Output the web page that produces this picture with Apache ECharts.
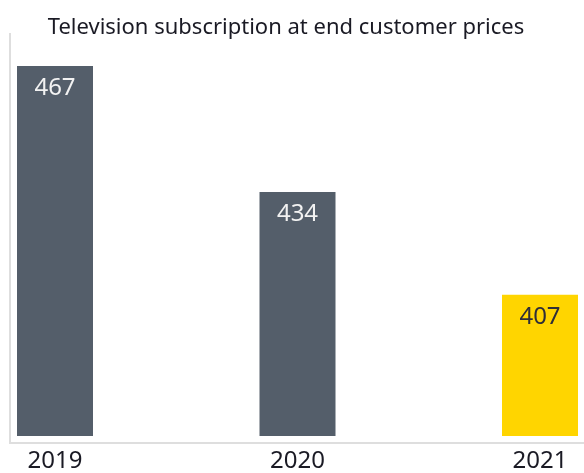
<!DOCTYPE html>
<html>
<head>
<meta charset="utf-8">
<script src="https://cdn.jsdelivr.net/npm/echarts@6/dist/echarts.min.js"></script>
<style>
  html, body { margin: 0; padding: 0; background: #fff; }
  #chart { width: 584px; height: 473px; }
</style>
</head>
<body>
<div id="chart"></div>
<script>
// data
const years = ['2019', '2020', '2021']
const values = [467, 434, 407]
const barColors = ['#545e6a', '#545e6a', '#ffd500']
const labelColors = ['#f2f2f2', '#f2f2f2', '#2e2e38']

const chart = echarts.init(document.getElementById('chart'))
chart.setOption({
  animation: false,
  title: {
    text: 'Television subscription at end customer prices',
    left: 281, top: 12, textAlign: 'center',
    textStyle: { fontFamily: 'Noto Sans', fontSize: 22, fontWeight: 'normal', color: '#1a1a24' }
  },
  grid: { left: 55, right: 44, top: 66, bottom: 30 },
  xAxis: {
    type: 'category',
    data: years,
    boundaryGap: false,
    axisLine: { show: false },
    axisTick: { show: false },
    axisLabel: { margin: 13, fontFamily: 'Noto Sans', fontSize: 24, color: '#1a1a24' }
  },
  yAxis: {
    type: 'value',
    min: 370,
    max: 467,
    show: false
  },
  graphic: [
    { type: 'line', shape: { x1: 10, y1: 33, x2: 10, y2: 443 }, style: { stroke: '#dedede', lineWidth: 2 }, z: 0 },
    { type: 'line', shape: { x1: 9, y1: 443, x2: 584, y2: 443 }, style: { stroke: '#dedede', lineWidth: 2 }, z: 0 }
  ],
  series: [{
    type: 'bar',
    barWidth: 76,
    data: values.map((v, i) => ({
      value: v,
      itemStyle: { color: barColors[i] },
      label: { color: labelColors[i] }
    })),
    label: {
      show: true,
      position: 'insideTop',
      distance: 10,
      fontFamily: 'Noto Sans',
      fontSize: 24
    }
  }]
})
</script>
</body>
</html>
